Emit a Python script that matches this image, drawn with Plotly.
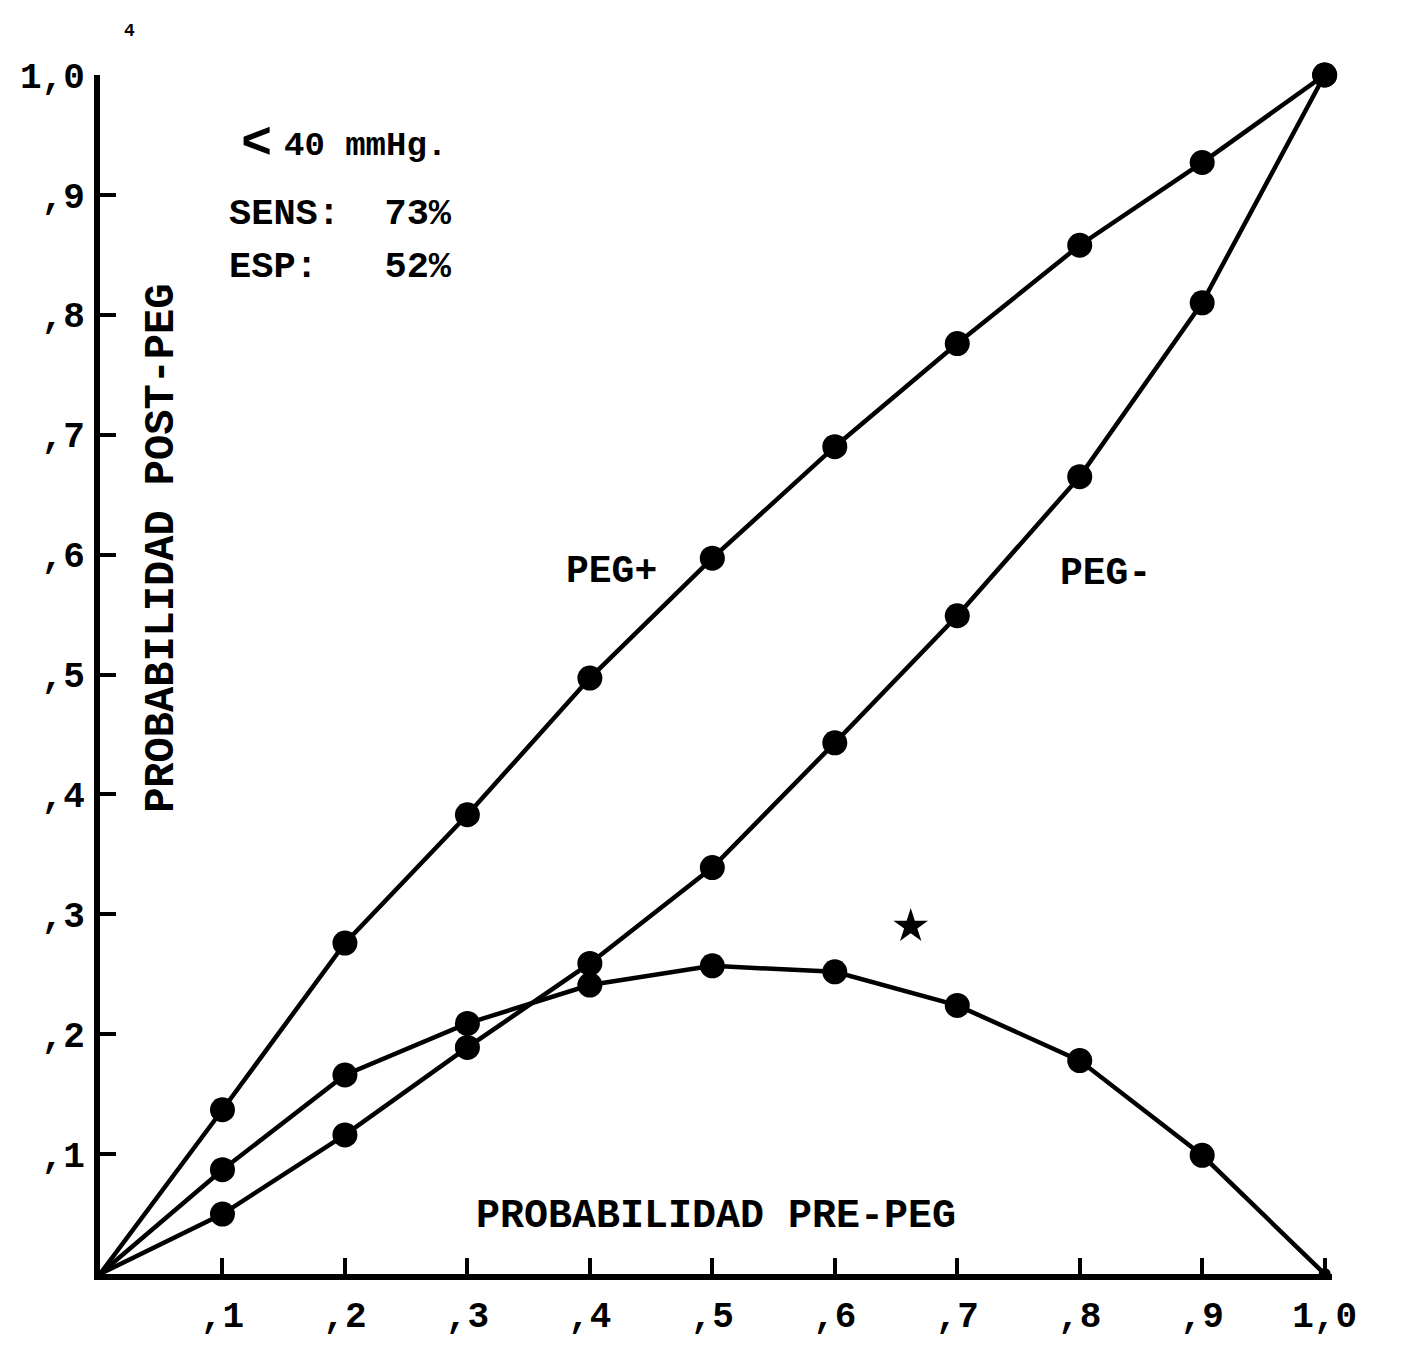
import plotly.graph_objects as go

# ---- data ----
pre_prob = [0.0, 0.1, 0.2, 0.3, 0.4, 0.5, 0.6, 0.7, 0.8, 0.9, 1.0]
peg_pos = [0.0, 0.137, 0.276, 0.383, 0.497, 0.597, 0.690, 0.776, 0.858, 0.927, 1.0]
peg_neg = [0.0, 0.050, 0.116, 0.189, 0.259, 0.339, 0.443, 0.549, 0.665, 0.810, 1.0]
diff = [0.0, 0.087, 0.166, 0.209, 0.241, 0.257, 0.252, 0.224, 0.178, 0.099, 0.0]
star_x = [0.662]
star_y = [0.29]

x_tick_vals = [0.1, 0.2, 0.3, 0.4, 0.5, 0.6, 0.7, 0.8, 0.9, 1.0]
x_tick_text = [",1", ",2", ",3", ",4", ",5", ",6", ",7", ",8", ",9", "1,0"]
y_tick_vals = [0.1, 0.2, 0.3, 0.4, 0.5, 0.6, 0.7, 0.8, 0.9, 1.0]
y_tick_text = [",1", ",2", ",3", ",4", ",5", ",6", ",7", ",8", ",9", "1,0"]

FONT = "Liberation Mono"
INK = "#000000"

fig = go.Figure()
for i, ys in enumerate((peg_pos, peg_neg, diff)):
    sizes = [25] * len(ys)
    sizes[0] = 0                     # lines simply converge at the origin
    if i == 2:
        sizes[-1] = 12               # small mark where the curve returns to 0
    fig.add_trace(go.Scatter(
        x=pre_prob, y=ys, mode="lines+markers", cliponaxis=False,
        line=dict(color=INK, width=4.5),
        marker=dict(color=INK, size=sizes, symbol="circle", opacity=1,
                    line=dict(width=0)),
        showlegend=False, hoverinfo="skip"))

fig.add_trace(go.Scatter(
    x=star_x, y=star_y, mode="markers", cliponaxis=False,
    marker=dict(color=INK, size=26, symbol="star", opacity=1),
    showlegend=False, hoverinfo="skip"))

def ann(x, y, text, size, xanchor="center", angle=0, ref="data"):
    xr, yr = ("x", "y") if ref == "data" else ("paper", "paper")
    fig.add_annotation(x=x, y=y, xref=xr, yref=yr, text=text, showarrow=False,
                       xanchor=xanchor, yanchor="middle", textangle=angle,
                       font=dict(family=FONT, size=size, color=INK, weight="bold"))

ann(0.128, 0.942, "&lt;", 52)
ann(0.1485, 0.941, "40 mmHg.", 34, xanchor="left")
ann(0.104, 0.884, "SENS:  73%", 37, xanchor="left")
ann(0.104, 0.840, "ESP:   52%", 37, xanchor="left")
ann(0.418, 0.586, "PEG+", 38)
ann(0.821, 0.584, "PEG-", 38)
ann(0.503, 0.048, "PROBABILIDAD PRE-PEG", 40)
ann(0.050, 0.605, "PROBABILIDAD POST-PEG", 42, angle=-90)
ann(0.024, 1.037, "4", 18, ref="paper")

fig.update_layout(
    width=1405, height=1350,
    margin=dict(l=100, r=73, t=75, b=67),
    plot_bgcolor="white", paper_bgcolor="white",
    font=dict(family=FONT, color=INK, weight="bold"),
)
fig.update_xaxes(
    range=[0, 1.006], showgrid=False, zeroline=False,
    showline=True, linewidth=6, linecolor=INK,
    ticks="inside", ticklen=16, tickwidth=4, tickcolor=INK,
    tickvals=x_tick_vals, ticktext=x_tick_text,
    tickfont=dict(family=FONT, size=36, color=INK),
    ticklabelstandoff=4,
)
fig.update_yaxes(
    range=[0, 1.0], showgrid=False, zeroline=False,
    showline=True, linewidth=6, linecolor=INK,
    ticks="inside", ticklen=16, tickwidth=4, tickcolor=INK,
    tickvals=y_tick_vals, ticktext=y_tick_text,
    tickfont=dict(family=FONT, size=36, color=INK),
    ticklabelstandoff=2,
)

fig.write_html("out.html")
